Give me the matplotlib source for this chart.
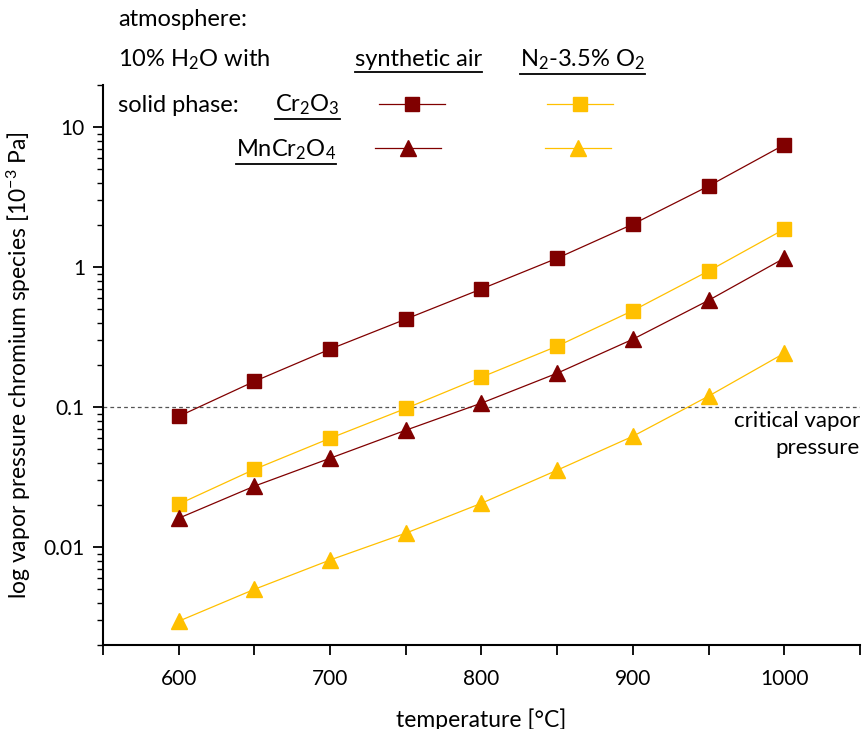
import matplotlib
matplotlib.use('Agg')
import matplotlib.pyplot as plt
from matplotlib.ticker import FixedLocator, LogLocator, NullFormatter, FuncFormatter

plt.rcParams['font.family'] = ['Lato', 'DejaVu Sans']
plt.rcParams['mathtext.fontset'] = 'custom'
plt.rcParams['mathtext.rm'] = 'Lato'
plt.rcParams['mathtext.it'] = 'Lato'

# temperature steps [°C]
temps = [600, 650, 700, 750, 800, 850, 900, 950, 1000]

# vapor pressure of chromium species [1e-3 Pa]
air_cr2o3 = [0.086, 0.153, 0.26, 0.426, 0.70, 1.16, 2.03, 3.8, 7.5]
n2_cr2o3 = [0.0203, 0.036, 0.060, 0.098, 0.164, 0.273, 0.49, 0.94, 1.87]
air_mncr2o4 = [0.0161, 0.0273, 0.0432, 0.0685, 0.107, 0.175, 0.306, 0.58, 1.16]
n2_mncr2o4 = [0.00296, 0.0050, 0.0081, 0.0126, 0.0206, 0.0355, 0.062, 0.12, 0.243]

critical = 0.1

red = '#800000'
yellow = '#FFC000'

fig = plt.figure(figsize=(8.68, 7.29), dpi=100)
ax = fig.add_axes([0.1187, 0.1152, 0.872, 0.768])

ax.plot(temps, air_cr2o3, color=red, lw=0.9, marker='s', ms=9.5)
ax.plot(temps, n2_cr2o3, color=yellow, lw=0.9, marker='s', ms=9.5)
ax.plot(temps, air_mncr2o4, color=red, lw=0.9, marker='^', ms=12)
ax.plot(temps, n2_mncr2o4, color=yellow, lw=0.9, marker='^', ms=12)

ax.axhline(critical, color='#555555', lw=0.9, ls=(0, (3, 2.5)), zorder=0)

ax.set_yscale('log')
ax.set_xlim(550, 1050)
ax.set_ylim(0.002, 20)

for s in ['top', 'right']:
    ax.spines[s].set_visible(False)
for s in ['left', 'bottom']:
    ax.spines[s].set_linewidth(1.5)

ax.xaxis.set_major_locator(FixedLocator([600, 700, 800, 900, 1000]))
ax.xaxis.set_minor_locator(FixedLocator([550, 650, 750, 850, 950, 1050]))
ax.yaxis.set_major_locator(FixedLocator([0.01, 0.1, 1, 10]))
ax.yaxis.set_minor_locator(LogLocator(base=10, subs=range(2, 10)))
ax.yaxis.set_minor_formatter(NullFormatter())
ax.yaxis.set_major_formatter(FuncFormatter(lambda v, p: '%g' % v))

ax.tick_params(axis='both', which='major', direction='out', length=7, width=1.3,
               labelsize=15, pad=6)
ax.tick_params(axis='x', which='minor', direction='out', length=7, width=1.3)
ax.tick_params(axis='y', which='minor', direction='out', length=4, width=1.0)
ax.tick_params(axis='x', which='major', pad=10)

ax.set_xlabel('temperature [°C]', fontsize=16.5, labelpad=14)
ax.set_ylabel('log vapor pressure chromium species [10$^{-3}$ Pa]', fontsize=16.5, labelpad=8)

ax.text(1.0, 0.418, 'critical vapor\npressure', transform=ax.transAxes,
        ha='right', va='top', fontsize=16, linespacing=1.45)

# header / legend block
fs = 17
fig.text(118 / 868, 1 - 20 / 729, 'atmosphere:', fontsize=fs, va='center')
fig.text(118 / 868, 1 - 60 / 729, '10% H$_2$O with', fontsize=fs, va='center')
fig.text(118 / 868, 1 - 105 / 729, 'solid phase:', fontsize=fs, va='center')

under = [
    fig.text(355 / 868, 1 - 60 / 729, 'synthetic air', fontsize=fs, va='center'),
    fig.text(520 / 868, 1 - 60 / 729, 'N$_2$-3.5% O$_2$', fontsize=fs, va='center'),
    fig.text(275 / 868, 1 - 105 / 729, 'Cr$_2$O$_3$', fontsize=fs, va='center'),
    fig.text(236 / 868, 1 - 150 / 729, 'MnCr$_2$O$_4$', fontsize=fs, va='center'),
]

fig.canvas.draw()
renderer = fig.canvas.get_renderer()
for t in under:
    bb = t.get_window_extent(renderer).transformed(fig.transFigure.inverted())
    fig.add_artist(plt.Line2D([bb.x0, bb.x1], [bb.y0 - 0.002, bb.y0 - 0.002],
                              transform=fig.transFigure, color='black', lw=1.3))

# legend keys
keys = [
    (412, 104, red, 's', 9.5),
    (580, 104, yellow, 's', 9.5),
    (408, 148, red, '^', 12),
    (578, 148, yellow, '^', 12),
]
for kx, ky, c, m, ms in keys:
    fy = 1 - ky / 729
    fig.add_artist(plt.Line2D([(kx - 33) / 868, (kx + 33) / 868], [fy, fy],
                              transform=fig.transFigure, color=c, lw=0.9))
    fig.add_artist(plt.Line2D([kx / 868], [fy], transform=fig.transFigure,
                              color=c, marker=m, ms=ms, lw=0))

fig.savefig('out.png', dpi=100)
